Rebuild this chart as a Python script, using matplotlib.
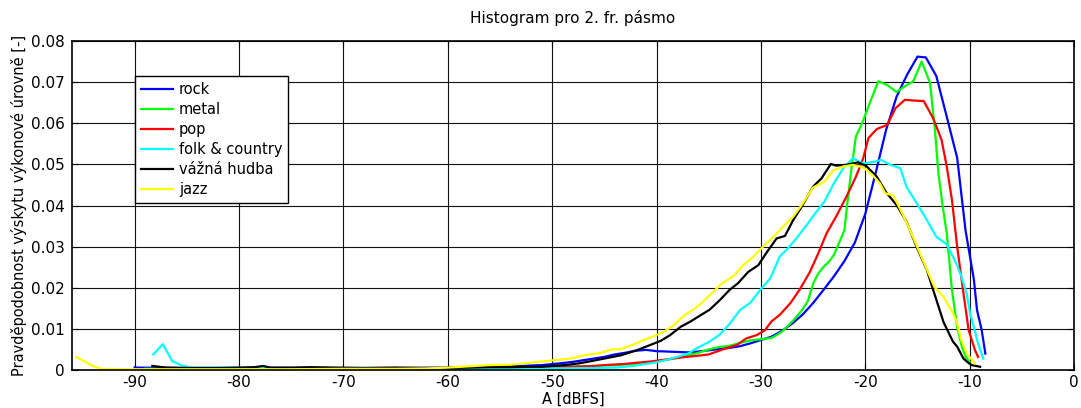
import matplotlib
matplotlib.use("Agg")
import matplotlib.pyplot as plt
import numpy as np

plt.rcParams['axes.unicode_minus'] = False

# histogram data (x in dBFS, y = probability)
rock_x = [-90, -85, -80, -75, -70, -65, -60, -57, -55, -53, -51, -49, -48, -47, -46, -45, -44, -43, -42,
          -41, -40, -39, -38, -37, -36, -35, -34, -33, -32, -31, -30, -29, -28, -27, -26, -25, -24, -23,
          -22, -21, -20, -19, -18, -17, -16, -15, -14.2, -13.2, -12.2, -11.2, -10.4, -9.6, -9.3, -8.85, -8.5]
rock_y = [0.0006, 0.0005, 0.0005, 0.0005, 0.0005, 0.0005, 0.0006, 0.0008, 0.0009, 0.0010, 0.0012, 0.0017,
          0.0020, 0.0024, 0.0028, 0.0032, 0.0038, 0.0042, 0.0047, 0.0049, 0.0046, 0.0045, 0.0044, 0.0043,
          0.0045, 0.0048, 0.0051, 0.0054, 0.0058, 0.0065, 0.0073, 0.0081, 0.0095, 0.0113, 0.0135, 0.0163,
          0.0195, 0.0228, 0.0265, 0.0310, 0.0380, 0.0480, 0.0585, 0.0665, 0.0718, 0.0762, 0.0760, 0.0715,
          0.0616, 0.0516, 0.0340, 0.0220, 0.0146, 0.0097, 0.0040]

metal_x = [-89, -85, -80, -75, -70, -65, -60, -57, -54, -51, -48, -46, -44, -42, -41, -40, -39, -38, -37,
           -36, -35, -34, -33, -32, -31, -30, -29, -28.5, -28, -27.5, -27, -26.5, -26, -25.5, -25, -24.5,
           -24, -23.5, -23, -22.5, -22, -21.8, -21.3, -20.9, -20.3, -19.7, -18.75, -17.9, -17, -16.2,
           -15.4, -14.6, -13.8, -13.3, -13, -12.6, -12.2, -11.7, -11.2, -10.75, -10.35, -10]
metal_y = [0.0003, 0.0003, 0.0003, 0.0003, 0.0003, 0.0003, 0.0003, 0.0004, 0.0005, 0.0006, 0.0008, 0.0010,
           0.0012, 0.0015, 0.0017, 0.0020, 0.0025, 0.0030, 0.0036, 0.0042, 0.0050, 0.0056, 0.0059, 0.0066,
           0.0072, 0.0075, 0.0078, 0.0085, 0.0093, 0.0105, 0.0118, 0.0132, 0.0148, 0.0168, 0.0210, 0.0235,
           0.0251, 0.0263, 0.0280, 0.0310, 0.0340, 0.0389, 0.0495, 0.0568, 0.0600, 0.0641, 0.0702, 0.0693,
           0.0676, 0.0690, 0.0702, 0.0750, 0.0698, 0.0576, 0.0479, 0.0400, 0.0333, 0.0195, 0.0105, 0.0057,
           0.0030, 0.0020]

pop_x = [-88, -80, -70, -62, -58, -55, -52, -50, -48.2, -46, -45, -43, -41.8, -40.5, -39, -37.5, -36, -35,
         -34, -33.3, -32.3, -31.4, -30.4, -29.6, -29, -28.2, -27.2, -26.3, -25.3, -24.5, -23.7, -22.8,
         -21.8, -20.9, -20.2, -19.7, -18.9, -17.9, -17.1, -16.2, -15.2, -14.4, -13.5, -12.7, -12.2, -11.7,
         -11.2, -10.6, -10.1, -9.5, -9.2]
pop_y = [0.0002, 0.0002, 0.0002, 0.0003, 0.0004, 0.0005, 0.0006, 0.0007, 0.0008, 0.0010, 0.0012, 0.0015,
         0.0018, 0.0021, 0.0026, 0.0031, 0.0035, 0.0038, 0.0047, 0.0053, 0.0061, 0.0077, 0.0085, 0.0097,
         0.0118, 0.0134, 0.0162, 0.0195, 0.0239, 0.0284, 0.0333, 0.0373, 0.0422, 0.0470, 0.0515, 0.0564,
         0.0586, 0.0596, 0.0637, 0.0657, 0.0655, 0.0654, 0.0612, 0.0560, 0.0495, 0.0414, 0.0300, 0.0187,
         0.0097, 0.0049, 0.0032]

folk_x = [-88.2, -87.3, -86.4, -85.4, -84.5, -80, -75, -70, -65, -60, -55, -50, -46, -44, -43.4, -42, -41,
          -40, -39, -38, -37, -36, -35, -34, -33, -32, -31, -30, -29.1, -28.2, -27.4, -26.6, -25.6, -24.8,
          -23.9, -23.1, -22.1, -21.2, -20.2, -19, -18.5, -17.6, -16.65, -16.05, -15.05, -14.1, -13.2,
          -12.2, -11.3, -10.9, -10.3, -9.96, -9.4, -9.3, -8.7]
folk_y = [0.0038, 0.0063, 0.0022, 0.0010, 0.0006, 0.0006, 0.0005, 0.0005, 0.0005, 0.0004, 0.0004, 0.0004,
          0.0005, 0.0006, 0.0007, 0.0011, 0.0015, 0.0019, 0.0025, 0.0032, 0.0040, 0.0055, 0.0068, 0.0085,
          0.0112, 0.0146, 0.0164, 0.0197, 0.0223, 0.0276, 0.0296, 0.0320, 0.0353, 0.0381, 0.0410, 0.0450,
          0.0491, 0.0515, 0.0502, 0.0507, 0.0511, 0.0499, 0.0491, 0.0445, 0.0405, 0.0365, 0.0324, 0.0306,
          0.0260, 0.0235, 0.0187, 0.0138, 0.0085, 0.0073, 0.0028]

classic_x = [-88.3, -87, -85, -82, -80, -78.5, -77.7, -77, -75, -73, -71, -68, -65, -62, -60, -58, -56, -54,
             -52, -51, -50, -48.8, -47.5, -46.6, -45, -43.4, -41.8, -40.6, -39.6, -38.7, -37.7, -36.75,
             -35.8, -34.9, -33.9, -33, -32.2, -31.2, -30.25, -29.5, -28.5, -27.7, -26.9, -26.1, -25, -24.2,
             -23.3, -22.8, -21.8, -20.7, -19.9, -18.9, -18, -17, -16.05, -15.1, -14.1, -13.5, -12.5, -11.6,
             -11.2, -10.6, -10.1, -9.8, -9]
classic_y = [0.0010, 0.0006, 0.0005, 0.0005, 0.0006, 0.0007, 0.0010, 0.0006, 0.0006, 0.0007, 0.0006, 0.0005,
             0.0006, 0.0005, 0.0005, 0.0006, 0.0007, 0.0007, 0.0008, 0.0008, 0.0010, 0.0012, 0.0016, 0.0020,
             0.0028, 0.0036, 0.0049, 0.0061, 0.0071, 0.0085, 0.0105, 0.0118, 0.0133, 0.0147, 0.0171, 0.0195,
             0.0211, 0.0239, 0.0255, 0.0284, 0.0320, 0.0326, 0.0365, 0.0397, 0.0446, 0.0466, 0.0501, 0.0497,
             0.0499, 0.0505, 0.0496, 0.0470, 0.0432, 0.0401, 0.0361, 0.0300, 0.0243, 0.0195, 0.0116, 0.0069,
             0.0057, 0.0028, 0.0017, 0.0012, 0.0008]

jazz_x = [-95.6, -94, -93.2, -90, -85, -80, -75, -70, -65, -62, -60, -58, -56, -54, -52, -49.8, -48.2, -46.9,
          -45.3, -44.3, -43.4, -42.1, -41.2, -40.2, -39.3, -38.3, -37.3, -36.4, -35.8, -34.9, -33.8, -32.6,
          -31.7, -30.7, -29.8, -28.8, -27.7, -26.9, -26.1, -25, -23.9, -23.1, -22.1, -21.2, -20.2, -19.3,
          -18.6, -18.1, -17.3, -16, -14.5, -13.4, -12.5, -11.6, -11.2, -10.8, -10.3, -9.5]
jazz_y = [0.0032, 0.0010, 0.0003, 0.0002, 0.0002, 0.0002, 0.0002, 0.0003, 0.0003, 0.0004, 0.0006, 0.0009,
          0.0012, 0.0013, 0.0018, 0.0024, 0.0028, 0.0036, 0.0042, 0.0050, 0.0051, 0.0063, 0.0073, 0.0083,
          0.0093, 0.0110, 0.0134, 0.0148, 0.0160, 0.0182, 0.0209, 0.0229, 0.0255, 0.0276, 0.0300, 0.0324,
          0.0353, 0.0373, 0.0401, 0.0444, 0.0458, 0.0485, 0.0495, 0.0499, 0.0493, 0.0474, 0.0454, 0.0430,
          0.0424, 0.0357, 0.0268, 0.0203, 0.0178, 0.0138, 0.0114, 0.0073, 0.0041, 0.0016]

labels = ['rock', 'metal', 'pop', 'folk & country', 'vážná hudba', 'jazz']
colors = ['#0000ff', '#00ff00', '#ff0000', '#00ffff', '#000000', '#ffff00']
xticks = [-90, -80, -70, -60, -50, -40, -30, -20, -10, 0]
yticks = [0, 0.01, 0.02, 0.03, 0.04, 0.05, 0.06, 0.07, 0.08]
ytick_labels = ['0', '0.01', '0.02', '0.03', '0.04', '0.05', '0.06', '0.07', '0.08']

series = [(rock_x, rock_y), (metal_x, metal_y), (pop_x, pop_y),
          (folk_x, folk_y), (classic_x, classic_y), (jazz_x, jazz_y)]

fig = plt.figure(figsize=(10.81, 4.08), dpi=100)
ax = fig.add_axes([0.0666, 0.093, 0.927, 0.8065])

for (xs, ys), lab, c in zip(series, labels, colors):
    ax.plot(xs, ys, color=c, lw=1.6, label=lab)

ax.set_xlim(-96, 0)
ax.set_ylim(0, 0.08)
ax.set_xticks(xticks)
ax.set_yticks(yticks)
ax.set_yticklabels(ytick_labels)
ax.grid(True, color='#111111', lw=0.8)
ax.set_axisbelow(True)
ax.tick_params(direction='in', top=True, right=True, labelsize=11, length=4)
ax.tick_params(axis='y', pad=5)
for s in ax.spines.values():
    s.set_linewidth(1.2)

ax.set_title('Histogram pro 2. fr. pásmo', fontsize=11, pad=13)
ax.set_xlabel('A [dBFS]', fontsize=10.5, labelpad=1)
ax.set_ylabel('Pravděpodobnost výskytu výkonové úrovně [-]', fontsize=10.5, labelpad=3)

leg = ax.legend(loc='upper left', bbox_to_anchor=(0.063, 0.894), fontsize=10.5,
                fancybox=False, framealpha=1, edgecolor='black', handlelength=2.2,
                borderaxespad=0, labelspacing=0.35, handletextpad=0.4, borderpad=0.4)
leg.get_frame().set_linewidth(1.0)

fig.savefig('out.png', dpi=100)
